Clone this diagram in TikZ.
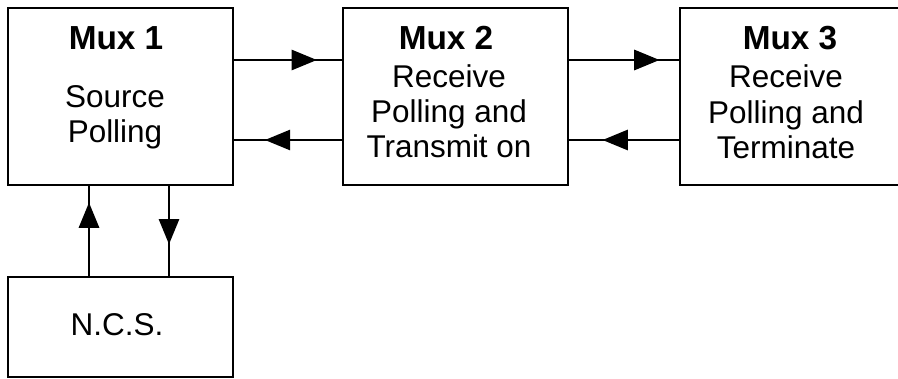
\documentclass[tikz,border=0pt]{standalone}
\usepackage{fontspec}
\setmainfont{Liberation Sans}
\usetikzlibrary{arrows.meta,decorations.markings}

\tikzset{
  muxbox/.style={draw, line width=2.2pt, minimum width=168.75pt, minimum height=132.75pt, inner sep=0pt},
  muxtitle/.style={anchor=base, font=\bfseries\fontsize{25}{30}\selectfont},
  muxtext/.style={anchor=base, font=\fontsize{23.6}{28}\selectfont},
  link/.style={line width=2.2pt},
  headat/.style={postaction={decorate}, decoration={markings,
      mark=at position #1 with {\arrow{Triangle[length=19pt,width=15pt]}}}}
}

\begin{document}
\begin{tikzpicture}[x=0.75pt, y=-0.75pt]

  \useasboundingbox (0,0) rectangle (898,378);

  % boxes
  \node[muxbox] (mux1) at (120.5,96.5) {};
  \node[muxbox] (mux2) at (455.5,96.5) {};
  \node[muxbox] (mux3) at (792.5,96.5) {};
  \node[muxbox, minimum height=75pt] (ncs) at (120.5,327) {};

  % texts
  \node[muxtitle] (t1) at (116,50) {Mux 1};
  \node[muxtitle] (t2) at (446,50) {Mux 2};
  \node[muxtitle] (t3) at (790,50) {Mux 3};
  \foreach \txt/\y [count=\i] in {Source/107, Polling/142}
    \node[muxtext] (a\i) at (115,\y) {\txt};
  \foreach \txt/\y [count=\i] in {Receive/87, Polling and/122, Transmit on/157}
    \node[muxtext] (b\i) at (449,\y) {\txt};
  \foreach \txt/\y [count=\i] in {Receive/87, Polling and/123, Terminate/158}
    \node[muxtext] (c\i) at (786,\y) {\txt};
  \node[muxtext] (n1) at (117,335) {N.C.S.};

  % links
  \draw[link, headat=0.77] (mux1.east |- 0,60) -- (mux2.west |- 0,60);
  \draw[link, headat=0.716] (mux2.west |- 0,140) -- (mux1.east |- 0,140);
  \draw[link, headat=0.826] (mux2.east |- 0,60) -- (mux3.west |- 0,60);
  \draw[link, headat=0.697] (mux3.west |- 0,140) -- (mux2.east |- 0,140);
  \draw[link, headat=0.82] (ncs.north -| 89,0) -- (mux1.south -| 89,0);
  \draw[link, headat=0.65] (mux1.south -| 169,0) -- (ncs.north -| 169,0);

\end{tikzpicture}
\end{document}
